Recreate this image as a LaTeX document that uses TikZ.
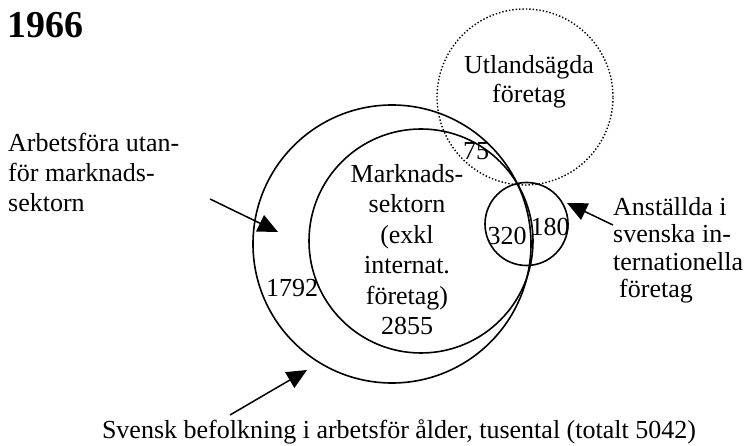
\documentclass[tikz,border=0pt]{standalone}
\usepackage{fontspec}
\setmainfont{Liberation Serif}
\usetikzlibrary{arrows.meta}
\begin{document}
\begin{tikzpicture}[x=1pt,y=-1pt,
  ring/.style={circle,draw,line width=1.6pt,inner sep=0pt,outer sep=0pt},
  dotring/.style={circle,draw,line width=1.4pt,dotted,inner sep=0pt,outer sep=0pt},
  txt/.style={inner sep=0pt,font=\fontsize{26}{30}\selectfont},
  pointer/.style={line width=1.5pt,-{Triangle[length=20pt,width=18pt]}}]
\useasboundingbox (0,0) rectangle (750,446);
% circles
\node[ring,minimum size=278pt] (outer) at (392,244) {};
\node[ring,minimum size=224pt] (market) at (421,241) {};
\node[ring,minimum size=83pt] (intl) at (526.5,224) {};
\node[dotring,minimum size=176pt] (foreign) at (525,97) {};
% texts (base anchor of multi-line nodes = last line's baseline)
\node[inner sep=0pt,anchor=base west,font=\fontsize{38}{40}\selectfont\bfseries] (year) at (7,38) {1966};
\node[txt,anchor=base west,align=left] (outside) at (8,212) {Arbetsföra utan-\\för marknads-\\sektorn};
\node[txt,anchor=base,align=center,font=\fontsize{26}{30.6}\selectfont] (mtext) at (407,335) {Marknads-\\sektorn\\(exkl\\internat.\\företag)\\2855};
\node[txt,anchor=base,align=center,font=\fontsize{26}{29}\selectfont] (ftext) at (529,103) {Utlandsägda\\företag};
\node[txt,anchor=base] (n75) at (476,160) {75};
\node[txt,anchor=base] (n320) at (507,245) {320};
\node[txt,anchor=base] (n180) at (550,236) {180};
\node[txt,anchor=base] (n1792) at (292,297) {1792};
\node[txt,anchor=base west,align=left,font=\fontsize{26}{27.5}\selectfont] (itext) at (613,298) {Anställda i\\svenska in-\\ternationella\\\hspace*{6pt}företag};
\node[txt,anchor=base] (bottom) at (399,438) {Svensk befolkning i arbetsför ålder, tusental (totalt 5042)};
% arrows
\coordinate (a1s) at (210,199);
\coordinate (a1e) at (278,232);
\coordinate (a2s) at (230,415);
\coordinate (a2e) at (307,370);
\coordinate (a3s) at (613,225);
\coordinate (a3e) at (567,203);
\draw[pointer] (a1s) -- (a1e);
\draw[pointer] (a2s) -- (a2e);
\draw[pointer] (a3s) -- (a3e);
\end{tikzpicture}
\end{document}
